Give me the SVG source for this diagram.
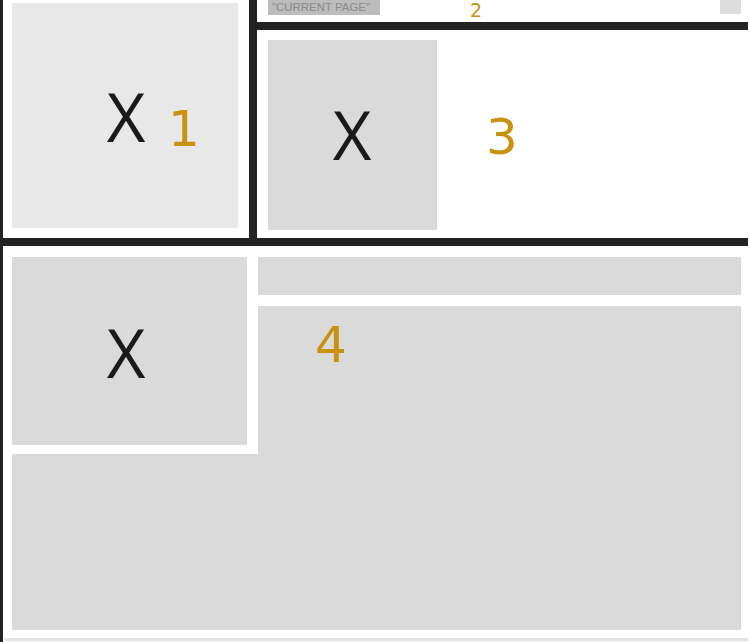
<svg xmlns="http://www.w3.org/2000/svg" width="750" height="642" viewBox="0 0 750 642">
<style>
.bg{fill:#ffffff}
.light{fill:#e8e8e8}
.mid{fill:#dadada}
.rule{fill:#232323}
.x{font-family:"Open Sans","DejaVu Sans",sans-serif;font-size:67px;fill:#1a1a1a;text-anchor:middle}
.num{font-family:"DejaVu Sans","Liberation Sans",sans-serif;font-size:50px;fill:#c8920e;text-anchor:middle}
.lbl{font-family:"Liberation Sans","DejaVu Sans",sans-serif;font-size:10px;fill:#8a8a8a}
</style>
<rect class="bg" x="0" y="0" width="750" height="642"/>
<g id="panel1">
<rect class="light" x="12" y="3" width="226" height="225"/>
<text class="x" x="126" y="142">X</text>
<text class="num" x="184" y="146">1</text>
</g>
<g id="panel2">
<rect x="268" y="0" width="112" height="15" fill="#bcbcbc"/>
<text class="lbl" x="272" y="11" textLength="98" lengthAdjust="spacingAndGlyphs">"CURRENT PAGE"</text>
<text class="num" x="476" y="17" style="font-size:19px">2</text>
<rect x="720" y="0" width="21" height="14" fill="#dcdcdc"/>
</g>
<g id="panel3">
<rect class="mid" x="268" y="40" width="169" height="190"/>
<text class="x" x="352" y="160">X</text>
<text class="num" x="502" y="154">3</text>
</g>
<g id="panel4">
<rect class="mid" x="12" y="257" width="235" height="188"/>
<text class="x" x="126" y="378">X</text>
<rect class="mid" x="258" y="257" width="483" height="38"/>
<path class="mid" d="M258 306 H741 V630 H12 V454 H258 Z"/>
<text class="num" x="331" y="362">4</text>
</g>
<g id="dividers">
<rect class="rule" x="0" y="0" width="3" height="642"/>
<rect class="rule" x="249" y="0" width="8" height="246"/>
<rect class="rule" x="250" y="22" width="498" height="8"/>
<rect class="rule" x="0" y="238" width="748" height="8"/>
<rect x="4" y="638" width="744" height="3" fill="#e4e4e4"/>
</g>
</svg>
